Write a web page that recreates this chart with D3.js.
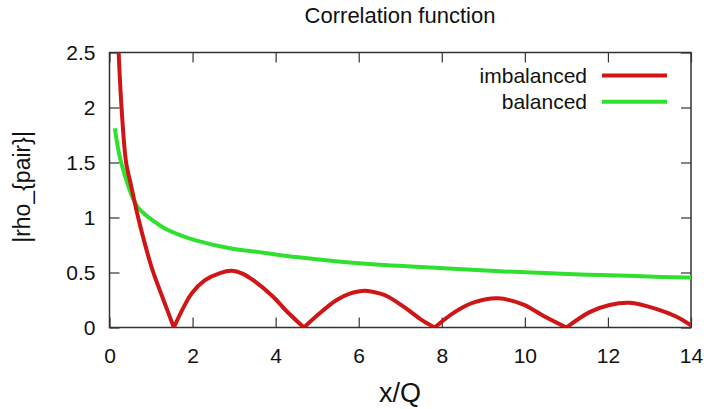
<!DOCTYPE html>
<html>
<head>
<meta charset="utf-8">
<script src="https://cdn.jsdelivr.net/npm/d3@7"></script>
<style>
  body { margin: 0; background: #fff; }
  text { font-family: "Liberation Sans", Arial, sans-serif; fill: #111; }
</style>
</head>
<body>
<div id="chart"></div>
<script>
// data
var imbalancedX = [0.22, 0.29, 0.40, 0.52, 0.61, 0.69, 0.81, 1.02, 1.30, 1.55,
  1.98, 2.30, 2.66, 2.95, 3.20, 3.46, 3.94, 4.26, 4.68,
  5.06, 5.47, 5.80, 6.15, 6.50, 6.71, 7.19, 7.51, 7.83,
  8.31, 8.79, 9.35, 9.95, 10.43, 11.0,
  11.56, 12.04, 12.52, 13.16, 13.64, 14.0];
var imbalancedY = [2.5, 2.0, 1.5, 1.29, 1.13, 1.0, 0.82, 0.54, 0.25, 0,
  0.31, 0.43, 0.495, 0.515, 0.49, 0.43, 0.28, 0.15, 0,
  0.13, 0.25, 0.31, 0.335, 0.31, 0.28, 0.16, 0.07, 0,
  0.14, 0.23, 0.265, 0.21, 0.11, 0,
  0.14, 0.205, 0.225, 0.17, 0.10, 0.02];
var balancedX = [0.13, 0.20, 0.28, 0.45, 0.57, 0.69, 0.85, 1.09, 1.29, 1.50, 1.70, 2.10,
  2.90, 3.70, 4.50, 5.50, 6.50, 7.50, 8.50, 9.50, 10.5, 11.5, 12.5, 13.3, 14.0];
var balancedY = [1.81, 1.64, 1.5, 1.29, 1.17, 1.09, 1.03, 0.96, 0.91, 0.87, 0.84, 0.79,
  0.72, 0.68, 0.64, 0.60, 0.57, 0.55, 0.53, 0.51, 0.495, 0.48, 0.47, 0.46, 0.455];
var seriesNames = ["imbalanced", "balanced"];
var seriesColors = ["#cf1515", "#30e030"];
var xTicks = [0, 2, 4, 6, 8, 10, 12, 14];
var yTicks = [0, 0.5, 1, 1.5, 2, 2.5];

// setup
var svgWidth = 708;
var svgHeight = 409;
var margin = { top: 52.5, right: 17, bottom: 81.5, left: 109.5 };
var width = svgWidth - margin.left - margin.right;
var height = svgHeight - margin.top - margin.bottom;

var svg = d3.select("#chart")
  .append("svg")
  .attr("width", svgWidth)
  .attr("height", svgHeight);

var chartGroup = svg.append("g")
  .attr("transform", `translate(${margin.left}, ${margin.top})`);

var xScale = d3.scaleLinear().domain([0, 14]).range([0, width]);
var yScale = d3.scaleLinear().domain([0, 2.5]).range([height, 0]);

// gnuplot style: ticks pointing inward on all four sides
var tickLen = 10;
var bottomAxis = d3.axisBottom(xScale).tickValues(xTicks).tickSizeInner(-tickLen).tickSizeOuter(0).tickPadding(21).tickFormat(d3.format("d"));
var topAxis = d3.axisTop(xScale).tickValues(xTicks).tickSizeInner(-tickLen).tickSizeOuter(0).tickFormat("");
var leftAxis = d3.axisLeft(yScale).tickValues(yTicks).tickSizeInner(-tickLen).tickSizeOuter(0).tickPadding(14).tickFormat(d => d3.format("~g")(d));
var rightAxis = d3.axisRight(yScale).tickValues(yTicks).tickSizeInner(-tickLen).tickSizeOuter(0).tickFormat("");

function styleAxis(g) {
  g.select(".domain").remove();
  g.selectAll(".tick line").attr("stroke", "#333").attr("stroke-width", 1.2);
  g.selectAll(".tick text")
    .style("font-family", "'Liberation Sans', Arial, sans-serif")
    .style("font-size", "21px")
    .attr("fill", "#111");
}

chartGroup.append("g").attr("transform", `translate(0, ${height})`).call(bottomAxis).call(styleAxis);
chartGroup.append("g").call(topAxis).call(styleAxis);
chartGroup.append("g").call(leftAxis).call(styleAxis);
chartGroup.append("g").attr("transform", `translate(${width}, 0)`).call(rightAxis).call(styleAxis);

// plot border
chartGroup.append("rect")
  .attr("width", width)
  .attr("height", height)
  .attr("fill", "none")
  .attr("stroke", "#333")
  .attr("stroke-width", 1.5);

// clip so the red curve stops at the top border
chartGroup.append("clipPath").attr("id", "clip")
  .append("rect").attr("width", width).attr("height", height);

var line = d3.line()
  .x(d => xScale(d[0]))
  .y(d => yScale(d[1]))
  .curve(d3.curveCatmullRom.alpha(0.5));

// split the imbalanced curve at its zeros so the cusps stay sharp
var imbalanced = d3.zip(imbalancedX, imbalancedY);
var arches = [];
var current = [];
imbalanced.forEach(function(p, i) {
  current.push(p);
  if (p[1] === 0 && i > 0) {
    arches.push(current);
    current = [p];
  }
});
if (current.length > 1) arches.push(current);

var plotGroup = chartGroup.append("g").attr("clip-path", "url(#clip)");

plotGroup.append("path")
  .datum(d3.zip(balancedX, balancedY))
  .attr("d", line)
  .attr("fill", "none")
  .attr("stroke", seriesColors[1])
  .attr("stroke-width", 4);

plotGroup.selectAll(".arch")
  .data(arches)
  .enter()
  .append("path")
  .attr("class", "arch")
  .attr("d", line)
  .attr("fill", "none")
  .attr("stroke", seriesColors[0])
  .attr("stroke-width", 4)
  .attr("stroke-linejoin", "miter");

// legend
var legend = svg.append("g");
seriesNames.forEach(function(name, i) {
  var y = 75.5 + i * 26.3;
  legend.append("text")
    .attr("x", 587)
    .attr("y", y + 7.5)
    .attr("text-anchor", "end")
    .style("font-size", "21px")
    .text(name);
  legend.append("line")
    .attr("x1", 602)
    .attr("x2", 667)
    .attr("y1", y)
    .attr("y2", y)
    .attr("stroke", seriesColors[i])
    .attr("stroke-width", 4);
});

// title and axis labels
svg.append("text")
  .attr("x", 400)
  .attr("y", 23)
  .attr("text-anchor", "middle")
  .style("font-size", "22px")
  .text("Correlation function");

svg.append("text")
  .attr("x", 400)
  .attr("y", 402)
  .attr("text-anchor", "middle")
  .style("font-size", "27px")
  .text("x/Q");

svg.append("text")
  .attr("transform", "translate(30, 187) rotate(-90)")
  .attr("text-anchor", "middle")
  .style("font-size", "23px")
  .text("|rho_{pair}|");
</script>
</body>
</html>
